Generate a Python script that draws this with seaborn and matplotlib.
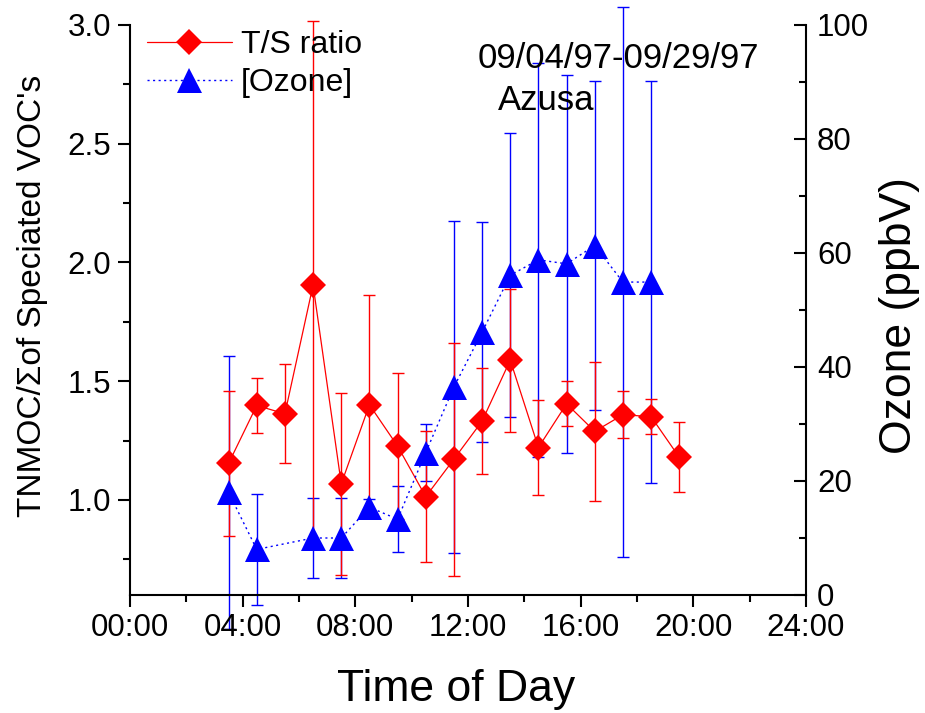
import matplotlib
matplotlib.use("Agg")
import matplotlib.pyplot as plt
import seaborn as sns
import numpy as np
import pandas as pd
from matplotlib.ticker import MultipleLocator, FixedLocator

# ---- data ----
ratio_hours = [3.5, 4.5, 5.5, 6.5, 7.5, 8.5, 9.5, 10.5, 11.5, 12.5, 13.5, 14.5, 15.5, 16.5, 17.5, 18.5, 19.5]
ratio_values = [1.154, 1.398, 1.363, 1.905, 1.068, 1.401, 1.227, 1.014, 1.172, 1.332, 1.589, 1.221, 1.405, 1.289, 1.359, 1.351, 1.180]
ratio_errors = [0.306, 0.117, 0.208, 1.11, 0.384, 0.462, 0.306, 0.277, 0.491, 0.223, 0.301, 0.198, 0.095, 0.292, 0.099, 0.073, 0.148]

ozone_hours = [3.5, 4.5, 6.5, 7.5, 8.5, 9.5, 10.5, 11.5, 12.5, 13.5, 14.5, 15.5, 16.5, 17.5, 18.5]
ozone_values = [18.0, 8.0, 10.0, 10.0, 15.4, 13.3, 25.0, 36.5, 46.1, 56.1, 58.8, 58.1, 61.3, 54.9, 54.9]
ozone_errors = [24.0, 9.8, 7.0, 7.0, 1.5, 5.8, 5.0, 29.2, 19.3, 24.9, 34.6, 33.2, 28.9, 48.2, 35.3]

x_ticks = [0, 4, 8, 12, 16, 20, 24]
x_tick_labels = ["00:00", "04:00", "08:00", "12:00", "16:00", "20:00", "24:00"]
left_ticks = [1.0, 1.5, 2.0, 2.5, 3.0]
right_ticks = [0, 20, 40, 60, 80, 100]

legend_labels = ["T/S ratio", "[Ozone]"]
date_text = "09/04/97-09/29/97"
site_text = "Azusa"

# ---- style ----
sns.set_theme(style="ticks")
plt.rcParams['font.family'] = ['Liberation Sans', 'DejaVu Sans']
plt.rcParams['axes.linewidth'] = 1.5
for k in ("text.color", "axes.labelcolor", "xtick.color", "ytick.color", "axes.edgecolor"):
    plt.rcParams[k] = "black"

W, H = 925, 713
fig = plt.figure(figsize=(W / 100, H / 100), dpi=100)
L, R, B, T = 130, 806, 595, 25
rect = [L / W, 1 - B / H, (R - L) / W, (B - T) / H]

ax1 = fig.add_axes(rect)
ax2 = ax1.twinx()   # ozone error bars and right axis
ax3 = ax1.twinx()   # ozone line and markers on top
ax3.sharey(ax2)

ax2.set_zorder(1)
ax1.set_zorder(2)
ax3.set_zorder(3)
for a in (ax1, ax3):
    a.patch.set_visible(False)
ax2.patch.set_visible(True)
ax2.patch.set_facecolor("white")

red = "#ff0000"
blue = "#0000ff"

df_r = pd.DataFrame({"hour": ratio_hours, "ratio": ratio_values})
df_o = pd.DataFrame({"hour": ozone_hours, "ozone": ozone_values})

# ozone error bars (bottom layer)
eb = ax2.errorbar(ozone_hours, ozone_values, yerr=ozone_errors, fmt="none",
                  ecolor=blue, elinewidth=1.0, capsize=4.3, capthick=1.0)
for art in eb.get_children():
    art.set_clip_on(False)

# ratio error bars + line
eb = ax1.errorbar(ratio_hours, ratio_values, yerr=ratio_errors, fmt="none",
                  ecolor=red, elinewidth=1.0, capsize=4.3, capthick=1.0)
for art in eb.get_children():
    art.set_clip_on(False)
sns.lineplot(data=df_r, x="hour", y="ratio", ax=ax1, color=red, linewidth=0.9,
             marker="D", markersize=13.5, markeredgewidth=0, legend=False)

# ozone line and markers
sns.lineplot(data=df_o, x="hour", y="ozone", ax=ax3, color=blue, linewidth=1.0,
             linestyle=(0, (1.5, 2.5)), marker="^", markersize=18,
             markeredgewidth=0, legend=False)

# ---- axes ----
ax1.set_xlim(0, 24)
ax1.set_ylim(0.6, 3.0)
ax2.set_ylim(0, 100)

ax1.xaxis.set_major_locator(FixedLocator(x_ticks))
ax1.set_xticklabels(x_tick_labels)
ax1.xaxis.set_minor_locator(MultipleLocator(2))
ax1.yaxis.set_major_locator(FixedLocator(left_ticks))
ax1.set_yticklabels([f"{v:.1f}" for v in left_ticks])
ax1.yaxis.set_minor_locator(MultipleLocator(0.25))
ax2.yaxis.set_major_locator(FixedLocator(right_ticks))
ax2.set_yticklabels([str(v) for v in right_ticks])
ax2.yaxis.set_minor_locator(MultipleLocator(10))

ax1.tick_params(axis="both", which="major", direction="out", length=8.6, width=1.5,
                labelsize=22.5, pad=4, colors="black")
ax1.tick_params(axis="both", which="minor", direction="out", length=5, width=1.5, colors="black")
ax1.tick_params(axis="y", which="major", pad=5)
ax2.tick_params(axis="y", which="major", direction="in", length=8.6, width=1.5,
                labelsize=22.5, pad=8, colors="black")
ax2.tick_params(axis="y", which="minor", direction="in", length=5, width=1.5, colors="black")

ax1.set_xlabel("")
ax1.set_ylabel("")
ax2.set_ylabel("")
ax3.set_ylabel("")
ax3.set_xlabel("")

for a in (ax1, ax2, ax3):
    a.spines["top"].set_visible(False)
    for s in a.spines.values():
        s.set_color("black")
        s.set_linewidth(1.5)
ax3.axis("off")
ax2.spines["left"].set_visible(False)
ax2.spines["bottom"].set_visible(False)
ax1.spines["right"].set_visible(False)

# ---- labels ----
fig.text(456 / W, 1 - 690 / H, "Time of Day", fontsize=32, ha="center", va="center", color="black")
fig.text(33 / W, 1 - 296 / H, "TNMOC/\u03a3of Speciated VOC's", fontsize=24,
         rotation=90, ha="center", va="center", color="black")
fig.text(900 / W, 1 - 316 / H, "Ozone (ppbV)", fontsize=32, rotation=90,
         ha="center", va="center", color="black")
fig.text(478 / W, 1 - 68 / H, date_text, fontsize=25, ha="left", va="baseline", color="black")
fig.text(498 / W, 1 - 110 / H, site_text, fontsize=25, ha="left", va="baseline", color="black")

# ---- legend ----
h_r = ax1.get_lines()[-1]
h_o = ax3.get_lines()[-1]
leg = fig.legend([h_r, h_o], legend_labels, loc="upper left",
                 bbox_to_anchor=(147 / W, 1 - 30 / H), frameon=False, fontsize=23,
                 handlelength=2.65, handletextpad=0.3, borderpad=0, borderaxespad=0,
                 labelspacing=0.25)
for t in leg.get_texts():
    t.set_color("black")

fig.savefig("out.png", dpi=100)
